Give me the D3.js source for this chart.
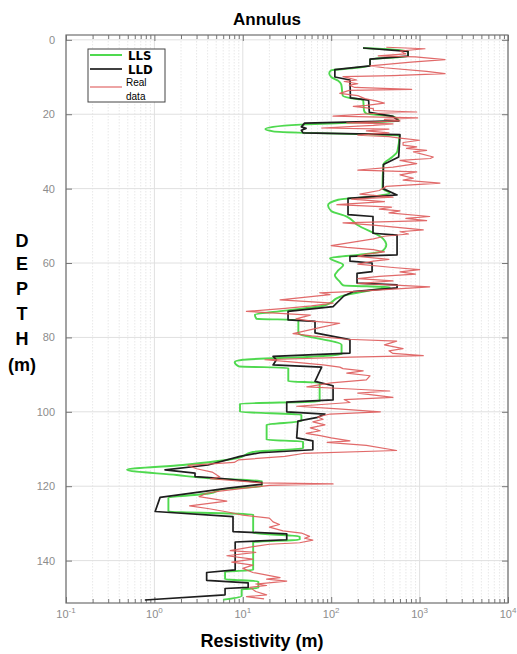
<!DOCTYPE html>
<html><head><meta charset="utf-8">
<script src="https://cdn.jsdelivr.net/npm/d3@7"></script>
<style>body{margin:0;background:#fff}svg{display:block;font-family:"Liberation Sans",Arial,sans-serif}</style>
</head><body>
<svg id="c" width="517" height="654"></svg>
<script>
// ---------- data ----------
const xTickValues = [0.1, 1, 10, 100, 1000, 10000];
const xTickExponents = ["-1", "0", "1", "2", "3", "4"];
const yTickValues = [0, 20, 40, 60, 80, 100, 120, 140];
const seriesNames = ["LLS", "LLD", "Real data"];

// [depth (m), resistivity]
const lls = [[2.2,229],[3.1,740],[4.4,740],[5.2,275],[7.0,275],[7.6,180],[8.2,100],[9.0,95],[10.0,100],[11.0,120],[12.0,130],[15.0,135],[15.6,160],[16.2,230],[19.0,235],[19.8,250],[20.6,500],[21.8,580],[22.3,150],[22.8,45],[23.4,22],[24.0,18],[24.6,22],[25.0,50],[25.4,250],[25.7,590],[30.0,560],[31.5,490],[33.5,390],[40.0,380],[41.2,460],[42.1,300],[43.0,120],[44.5,92],[46.0,100],[47.5,150],[49.7,196],[53.3,380],[55.1,420],[56.9,373],[57.8,200],[58.7,97],[60.5,137],[62.0,120],[63.3,110],[65.0,125],[66.0,137],[66.5,460],[67.2,300],[68.8,137],[71.5,81],[72.8,30],[73.9,13.7],[75.0,14.3],[75.3,42.5],[78.8,42.5],[82.0,131],[84.5,131],[85.2,60],[86.0,10],[86.6,8.1],[87.8,9],[88.2,32.7],[91.8,32.7],[92.2,74],[97.2,74],[97.8,9.3],[100.0,9.3],[100.8,46],[102.5,46],[103.5,18.6],[107.5,18.6],[108.0,48],[109.8,48],[110.8,13],[112.5,8.5],[114.3,2.1],[115.6,0.49],[117.0,1.79],[117.9,4.26],[118.6,16.4],[120.0,16.4],[120.8,6],[121.9,4.26],[123.2,1.44],[126.8,1.44],[127.6,13.1],[132.6,13.1],[133.5,44],[134.4,44],[135.0,13.1],[142.5,13.1],[143.0,6.3],[145.0,6.3],[145.6,15],[147.3,15],[147.8,9.7],[149.5,9.7],[150.5,6]];

const lld = [[2.2,229],[3.1,740],[4.4,740],[5.2,275],[7.0,275],[8.0,110],[10.0,110],[10.8,163],[15.6,165],[16.2,265],[19.5,270],[20.6,500],[21.8,580],[22.4,50],[23.4,46],[23.8,52],[24.3,46],[25.0,48],[25.5,600],[31.5,580],[33.5,390],[40.0,386],[41.7,556],[42.6,155],[47.0,155],[47.5,297],[52.0,297],[52.5,556],[57.8,556],[58.2,163],[59.5,163],[60.0,290],[62.3,290],[62.8,196],[65.4,196],[65.9,556],[66.7,556],[67.7,177],[68.8,140],[71.7,105],[73.0,32.5],[75.3,32.5],[75.7,65.6],[78.8,65.6],[80.6,163],[84.2,163],[85.1,22],[86.0,24],[87.4,22],[88.0,78],[91.8,65.6],[93.0,105],[96.8,105],[97.4,31.4],[100.0,31.4],[100.6,85],[101.5,70],[102.5,42],[107.0,40.7],[107.8,62],[110.2,62],[111.0,15.7],[112.0,9.3],[114.3,4.04],[115.6,1.32],[116.5,2.88],[117.4,2.88],[117.8,5.07],[119.0,16.4],[119.5,16.4],[120.5,6.8],[121.2,4.26],[123.0,1.16],[126.8,1.02],[128.2,7.75],[132.2,7.75],[132.8,31.4],[134.4,31.4],[135.0,8.2],[142.5,8.2],[143.2,3.9],[145.3,3.9],[146.0,11.5],[147.2,11.5],[147.5,6.3],[149.2,6.3],[150.6,0.78]];

const realData = [[2.0,420],[2.4,1150],[3.0,600],[3.8,700],[4.3,340],[4.6,900],[5.3,1940],[6.0,800],[7.0,275],[7.5,400],[8.5,1200],[9.1,1940],[9.6,500],[9.9,136],[10.8,194],[11.2,140],[11.8,200],[12.2,160],[12.8,185],[13.3,814],[13.6,160],[14.4,125],[15.0,200],[15.8,240],[16.4,320],[17.0,400],[17.6,250],[17.9,178],[18.5,300],[19.0,300],[19.4,927],[19.8,300],[20.5,105],[21.0,950],[21.4,400],[21.8,600],[22.3,150],[22.6,500],[23.0,300],[23.7,78],[24.0,450],[24.5,250],[25.0,450],[25.6,200],[26.0,450],[26.4,600],[27.0,1000],[27.6,650],[28.3,650],[28.8,927],[29.2,710],[29.7,1200],[30.1,850],[31.5,1430],[31.9,1320],[32.4,600],[33.3,927],[34.2,500],[35.0,200],[35.5,927],[36.3,600],[37.2,850],[37.7,650],[38.5,1700],[39.4,420],[40.5,350],[41.5,211],[42.3,500],[42.8,170],[43.5,400],[44.3,116],[45.0,480],[45.5,350],[46.0,600],[46.5,450],[47.5,1300],[48.0,700],[48.6,1200],[49.2,136],[49.8,300],[50.5,600],[51.1,1100],[51.6,600],[52.2,750],[52.8,400],[53.5,300],[54.2,200],[55.3,100],[55.8,150],[56.4,300],[57.0,400],[57.6,250],[58.2,200],[59.0,450],[59.5,300],[60.3,200],[61.2,500],[61.8,1000],[62.4,600],[63.0,900],[63.6,350],[64.2,200],[64.8,500],[65.5,200],[66.0,600],[66.4,1300],[67.0,500],[67.6,196],[68.0,74],[68.5,97],[69.9,26.4],[70.8,105],[71.5,60],[72.2,30],[73.0,11],[74.0,58],[75.0,40],[75.6,60],[76.2,125],[77.5,70],[79.0,37],[79.6,60],[80.5,150],[81.0,550],[82.0,400],[83.0,650],[83.6,450],[84.3,500],[84.9,1100],[85.3,163],[86.0,17.8],[86.6,35],[87.4,81],[88.0,125],[88.4,136],[89.0,230],[89.6,150],[90.3,275],[91.4,250],[92.2,100],[93.3,53],[93.8,150],[94.4,460],[95.0,200],[96.1,500],[96.7,140],[97.5,163],[98.5,40.7],[99.2,120],[100.0,360],[100.6,97],[101.4,70],[102.0,81],[102.7,62],[103.5,85],[104.3,58],[105.1,75],[105.8,52],[106.4,75],[107.0,100],[107.8,163],[108.2,90],[109.0,250],[110.4,550],[111.2,48],[112.0,30],[112.9,9],[113.6,8],[114.4,2.4],[115.3,3],[116.2,4.5],[117.5,5.5],[118.0,4.3],[119.1,16],[119.4,105],[119.8,20],[120.6,10],[121.3,5.5],[121.9,3.9],[122.8,3.2],[124.0,6.6],[125.3,2.5],[126.0,4],[127.0,7],[127.8,10],[128.6,20],[129.6,22],[130.3,26],[131.0,20],[132.0,28.5],[132.6,46],[133.5,57],[134.0,50],[134.5,62],[135.2,44],[135.6,20],[136.1,14.3],[137.3,7.2],[137.8,14],[138.7,6.6],[139.6,13],[140.4,7.5],[141.2,13],[142.1,10],[143.2,13],[144.6,26.4],[145.0,18.6],[145.5,31.4],[146.3,14],[146.7,18.6],[147.2,12],[148.3,14],[149.2,18.6],[149.7,11],[150.3,17.4]];

// ---------- chart ----------
const svg = d3.select("#c");
const L = 66, R = 508, T = 35, B = 603;
const x = d3.scaleLog().domain([0.1, 10000]).range([L, R]);
const y = d3.scaleLinear().domain([-1.3, 151.4]).range([T, B]);

const minor = [];
xTickValues.slice(0, -1).forEach(v => { for (let k = 2; k < 10; k++) minor.push(v * k); });

// grid
svg.append("g").selectAll("line").data(minor).join("line")
  .attr("x1", d => x(d)).attr("x2", d => x(d)).attr("y1", T).attr("y2", B)
  .attr("stroke", "#e2e2e2").attr("stroke-width", 0.8).attr("stroke-dasharray", "1.5,1.5");
svg.append("g").selectAll("line").data(xTickValues).join("line")
  .attr("x1", d => x(d)).attr("x2", d => x(d)).attr("y1", T).attr("y2", B)
  .attr("stroke", "#e0e0e0").attr("stroke-width", 1);
svg.append("g").selectAll("line").data(yTickValues).join("line")
  .attr("x1", L).attr("x2", R).attr("y1", d => y(d)).attr("y2", d => y(d))
  .attr("stroke", "#e0e0e0").attr("stroke-width", 1);

// axes ticks
function styleAxis(g) {
  g.select(".domain").remove();
  g.selectAll("line").attr("stroke", "#777");
  g.selectAll("text").attr("fill", "#8c8c8c").attr("font-size", 11)
    .attr("font-family", "'Liberation Sans',Arial,sans-serif");
}
svg.append("g").attr("transform", `translate(0,${B})`)
  .call(d3.axisBottom(x).tickValues(minor).tickSize(-4).tickFormat("")).call(styleAxis);
svg.append("g").attr("transform", `translate(0,${T})`)
  .call(d3.axisTop(x).tickValues(minor).tickSize(-4).tickFormat("")).call(styleAxis);
svg.append("g").attr("transform", `translate(0,${B})`)
  .call(d3.axisBottom(x).tickValues(xTickValues).tickSize(-6).tickFormat("")).call(styleAxis);
svg.append("g").attr("transform", `translate(0,${T})`)
  .call(d3.axisTop(x).tickValues(xTickValues).tickSize(-6).tickFormat("")).call(styleAxis);
svg.append("g").attr("transform", `translate(${L},0)`)
  .call(d3.axisLeft(y).tickValues(yTickValues).tickSize(-6).tickPadding(11)).call(styleAxis);
svg.append("g").attr("transform", `translate(${R},0)`)
  .call(d3.axisRight(y).tickValues(yTickValues).tickSize(-6).tickFormat("")).call(styleAxis);

// x tick labels with superscripts
const xl = svg.append("g").selectAll("text").data(xTickValues).join("text")
  .attr("x", d => x(d)).attr("y", 618).attr("text-anchor", "middle")
  .attr("fill", "#8c8c8c").attr("font-size", 11);
xl.append("tspan").text("10");
xl.append("tspan").attr("dy", -5).attr("font-size", 8).text((d, i) => xTickExponents[i]);

// frame
svg.append("rect").attr("x", L).attr("y", T).attr("width", R - L).attr("height", B - T)
  .attr("fill", "none").attr("stroke", "#6f6f6f").attr("stroke-width", 1.2);

// curves
svg.append("clipPath").attr("id", "clip").append("rect")
  .attr("x", L).attr("y", T).attr("width", R - L).attr("height", B - T);
const line = d3.line().x(d => x(d[1])).y(d => y(d[0]));
const plot = svg.append("g").attr("clip-path", "url(#clip)");
plot.append("path").datum(lls).attr("d", line.curve(d3.curveMonotoneY)).attr("fill", "none")
  .attr("stroke", "#4fd94f").attr("stroke-width", 1.9).attr("stroke-linejoin", "round");
plot.append("path").datum(lld).attr("d", line.curve(d3.curveLinear)).attr("fill", "none")
  .attr("stroke", "#1e1e1e").attr("stroke-width", 1.7).attr("stroke-linejoin", "round");
plot.append("path").datum(realData).attr("d", line.curve(d3.curveLinear)).attr("fill", "none")
  .attr("stroke", "#de5a5a").attr("stroke-opacity", 0.9).attr("stroke-width", 1.2).attr("stroke-linejoin", "round");

// legend
const lg = svg.append("g");
lg.append("rect").attr("x", 88).attr("y", 49).attr("width", 77).attr("height", 53)
  .attr("fill", "#fff").attr("stroke", "#444").attr("stroke-width", 1);
const legColors = ["#4fd94f", "#1e1e1e", "#de5a5a"];
const legY = [55, 69, 87];
const legW = [2, 1.7, 1.1];
lg.selectAll("line").data(seriesNames).join("line")
  .attr("x1", 90).attr("x2", 122).attr("y1", (d, i) => legY[i]).attr("y2", (d, i) => legY[i])
  .attr("stroke", (d, i) => legColors[i]).attr("stroke-width", (d, i) => legW[i]);
lg.append("text").attr("x", 128).attr("y", 60).attr("font-size", 13).attr("font-weight", "bold")
  .attr("font-family", "'DejaVu Sans Condensed','Liberation Sans Narrow',Arial,sans-serif").text(seriesNames[0]);
lg.append("text").attr("x", 128).attr("y", 74).attr("font-size", 13).attr("font-weight", "bold")
  .attr("font-family", "'DejaVu Sans Condensed','Liberation Sans Narrow',Arial,sans-serif").text(seriesNames[1]);
const words = seriesNames[2].split(" ");
lg.append("text").attr("x", 126).attr("y", 86).attr("font-size", 10).text(words[0]);
lg.append("text").attr("x", 126).attr("y", 100).attr("font-size", 10).text(words[1]);

// titles
svg.append("text").attr("x", 267).attr("y", 25).attr("text-anchor", "middle")
  .attr("font-size", 17).attr("font-weight", "bold").text("Annulus");
svg.append("text").attr("x", 262).attr("y", 647).attr("text-anchor", "middle")
  .attr("font-size", 18).attr("font-weight", "bold").text("Resistivity (m)");
const depthLetters = ["D", "E", "P", "T", "H", "(m)"];
const depthY = [240, 263, 288, 313, 338, 364];
svg.append("g").selectAll("text").data(depthLetters).join("text")
  .attr("x", 22).attr("y", (d, i) => depthY[i] + 7).attr("text-anchor", "middle")
  .attr("font-size", 18).attr("font-weight", "bold").text(d => d);
</script>
</body></html>
